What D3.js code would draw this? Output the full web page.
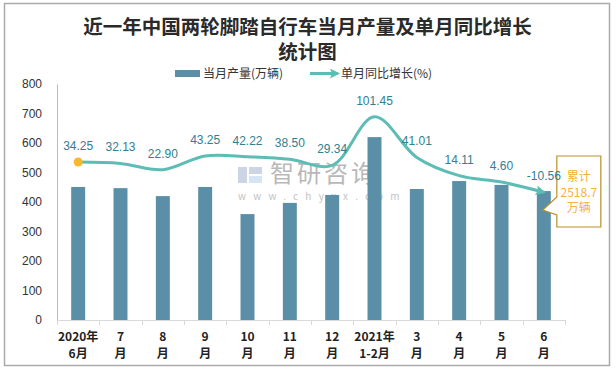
<!DOCTYPE html>
<html>
<head>
<meta charset="utf-8">
<script src="https://cdn.jsdelivr.net/npm/d3@7"></script>
<style>
  body { margin: 0; background: #fff; }
  text { font-family: "Noto Sans CJK SC", "Noto Sans", sans-serif; }
</style>
</head>
<body>
<svg id="chart" width="616" height="370"></svg>
<script>
// chart data
var months = [["2020年", "6月"], ["7", "月"], ["8", "月"], ["9", "月"], ["10", "月"], ["11", "月"],
              ["12", "月"], ["2021年", "1-2月"], ["3", "月"], ["4", "月"], ["5", "月"], ["6", "月"]];
var production = [451, 447, 420, 451, 359, 397, 424, 620, 444, 471, 458, 437];
var growth = [34.25, 32.13, 22.90, 43.25, 42.22, 38.50, 29.34, 101.45, 41.01, 14.11, 4.60, -10.56];
var yTicks = [0, 100, 200, 300, 400, 500, 600, 700, 800];
var titleLines = ["近一年中国两轮脚踏自行车当月产量及单月同比增长", "统计图"];
var legendNames = ["当月产量(万辆)", "单月同比增长(%)"];
var totalNote = ["累计", "2518.7", "万辆"];

var barColor = "#5b8fa7",
    lineColor = "#5dbdb4",
    labelColor = "#2f8090";

var svg = d3.select("#chart");

var margin = {top: 84, right: 51, bottom: 50, left: 57},
    width = 616,
    height = 370,
    plotW = width - margin.left - margin.right,
    plotH = height - margin.top - margin.bottom;

// outer frame
svg.append("rect")
   .attr("x", 4.5).attr("y", 3.5)
   .attr("width", 605).attr("height", 362)
   .attr("fill", "#fff")
   .attr("stroke", "#aaa")
   .attr("stroke-width", 1.5);

// title
svg.selectAll(".title")
   .data(titleLines)
   .enter().append("text")
   .attr("class", "title")
   .attr("x", 307.5)
   .attr("y", (d, i) => 34 + i * 25)
   .attr("text-anchor", "middle")
   .attr("font-size", 19.5)
   .attr("font-weight", "bold")
   .attr("fill", "#2a2a2a")
   .text(d => d);

// legend
var legend = svg.append("g");
legend.append("rect")
   .attr("x", 175).attr("y", 70)
   .attr("width", 25).attr("height", 7)
   .attr("fill", barColor);
legend.append("text")
   .attr("x", 203).attr("y", 78)
   .attr("font-size", 12).attr("fill", "#333")
   .text(legendNames[0]);

var defs = svg.append("defs");
defs.append("marker")
   .attr("id", "arrow")
   .attr("viewBox", "0 0 10 10")
   .attr("refX", 8).attr("refY", 5)
   .attr("markerWidth", 11).attr("markerHeight", 10)
   .attr("markerUnits", "userSpaceOnUse")
   .attr("orient", "auto")
   .append("path")
   .attr("d", "M0,0 L10,5 L0,10 L2,5 Z")
   .attr("fill", lineColor);

legend.append("line")
   .attr("x1", 310).attr("x2", 338)
   .attr("y1", 73.5).attr("y2", 73.5)
   .attr("stroke", lineColor)
   .attr("stroke-width", 3)
   .attr("marker-end", "url(#arrow)");
legend.append("text")
   .attr("x", 341).attr("y", 78)
   .attr("font-size", 12).attr("fill", "#333")
   .text(legendNames[1]);

var g = svg.append("g")
   .attr("transform", `translate(${margin.left},${margin.top})`);

// scales
var x = d3.scaleBand()
   .domain(d3.range(months.length))
   .range([0, plotW])
   .paddingInner(0.67)
   .paddingOuter(0.335);

var xBand = d3.scaleBand()
   .domain(d3.range(months.length))
   .range([0, plotW]);

var y = d3.scaleLinear().domain([0, 800]).range([plotH, 0]);
var y2 = d3.scaleLinear().domain([-200, 150]).range([plotH, 0]);

// watermark
var wm = g.append("g").attr("opacity", 0.6);
wm.append("rect").attr("x", 181).attr("y", 83).attr("width", 9).attr("height", 16).attr("fill", "#a9bad6");
wm.append("rect").attr("x", 192).attr("y", 83).attr("width", 13).attr("height", 7).attr("fill", "#a9bad6");
wm.append("rect").attr("x", 192).attr("y", 92).attr("width", 13).attr("height", 7).attr("fill", "#bcd5ec");
wm.append("text")
   .attr("x", 213).attr("y", 98)
   .attr("font-size", 24)
   .attr("letter-spacing", 3)
   .attr("fill", "#8a8a8a")
   .text("智研咨询");
wm.append("text")
   .attr("x", 181).attr("y", 116)
   .attr("font-size", 10)
   .attr("letter-spacing", 7.2)
   .attr("fill", "#999")
   .text("www.chyxx.com");

// y axis (left)
var yAxis = g.append("g")
   .call(d3.axisLeft(y).tickValues(yTicks).tickSize(0).tickPadding(15));
yAxis.select(".domain").attr("stroke", "#bbb");
yAxis.selectAll("text")
   .attr("font-size", 12)
   .attr("fill", "#333")
   .style("font-family", "'Liberation Sans', Arial, sans-serif");

// bars
g.selectAll(".bar")
   .data(production)
   .enter().append("rect")
   .attr("class", "bar")
   .attr("x", (d, i) => x(i))
   .attr("y", d => y(d))
   .attr("width", x.bandwidth())
   .attr("height", d => plotH - y(d))
   .attr("fill", barColor);

// x axis
var xAxis = g.append("g")
   .attr("transform", `translate(0,${plotH})`);
xAxis.append("line")
   .attr("x1", 0).attr("x2", plotW)
   .attr("y1", 0.5).attr("y2", 0.5)
   .attr("stroke", "#d9d9d9");
xAxis.selectAll(".tick")
   .data(d3.range(months.length + 1))
   .enter().append("line")
   .attr("x1", d => Math.round(d * xBand.step()) + 0.5)
   .attr("x2", d => Math.round(d * xBand.step()) + 0.5)
   .attr("y1", 0).attr("y2", 5)
   .attr("stroke", "#d9d9d9");

var xLabels = xAxis.selectAll(".xlabel")
   .data(months)
   .enter().append("text")
   .attr("class", "xlabel")
   .attr("text-anchor", "middle")
   .attr("font-size", 12)
   .attr("font-weight", "bold")
   .attr("fill", "#222");
xLabels.each(function(d, i) {
   var t = d3.select(this);
   var cx = xBand(i) + xBand.bandwidth() / 2;
   d.forEach(function(s, k) {
      t.append("tspan")
       .attr("x", cx)
       .attr("y", 21 + k * 17)
       .text(s);
   });
});

// growth line
var line = d3.line()
   .x((d, i) => xBand(i) + xBand.bandwidth() / 2)
   .y(d => y2(d))
   .curve(d3.curveCatmullRom.alpha(0.5));

g.append("path")
   .datum(growth)
   .attr("d", line)
   .attr("fill", "none")
   .attr("stroke", lineColor)
   .attr("stroke-width", 3)
   .attr("marker-end", "url(#arrow)");

g.append("circle")
   .attr("cx", xBand(0) + xBand.bandwidth() / 2)
   .attr("cy", y2(growth[0]))
   .attr("r", 4.5)
   .attr("fill", "#f5b82e");

// callout box with the cumulative total
var last = months.length - 1;
var tipX = xBand(last) + xBand.bandwidth() / 2 - 1;
var bx = tipX + 14, by = 72, bw = 44, bh = 71;
g.append("path")
   .attr("d", `M${bx},${by} H${bx + bw} V${by + bh} H${bx} V${by + 59} L${tipX},${by + 54} L${bx},${by + 41} Z`)
   .attr("fill", "#fff")
   .attr("stroke", "#b8902a")
   .attr("stroke-width", 1.2);
g.selectAll(".note")
   .data(totalNote)
   .enter().append("text")
   .attr("class", "note")
   .attr("x", bx + bw / 2)
   .attr("y", (d, i) => by + 25 + i * 15.5)
   .attr("text-anchor", "middle")
   .attr("font-size", 12)
   .attr("fill", "#f0b43a")
   .text(d => d);

// growth labels drawn last so they sit above the callout
g.selectAll(".glabel")
   .data(growth)
   .enter().append("text")
   .attr("class", "glabel")
   .attr("x", (d, i) => xBand(i) + xBand.bandwidth() / 2)
   .attr("y", d => y2(d) - 12)
   .attr("text-anchor", "middle")
   .attr("font-size", 12)
   .attr("fill", labelColor)
   .style("font-family", "'Liberation Sans', Arial, sans-serif")
   .text(d => d.toFixed(2));
</script>
</body>
</html>
